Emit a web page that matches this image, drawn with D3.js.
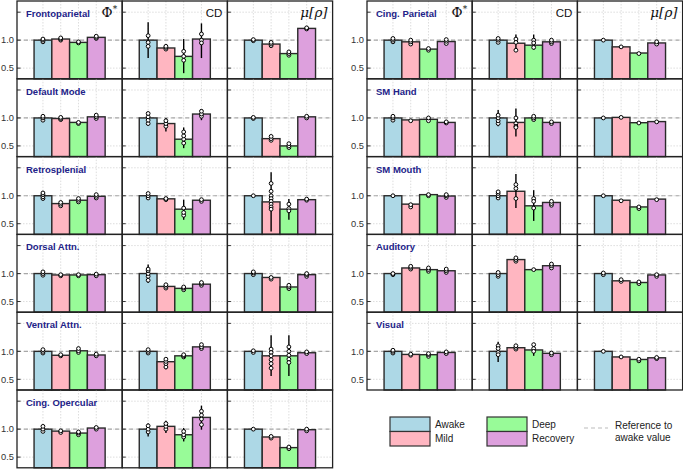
<!DOCTYPE html>
<html><head><meta charset="utf-8">
<script src="https://cdn.jsdelivr.net/npm/d3@7"></script>
<style>body{margin:0;background:#fff}svg{display:block;font-family:"Liberation Sans",Arial,sans-serif}</style>
</head><body><svg id="c" width="683" height="470"></svg>
<script>
const conditions = ["Awake","Mild","Deep","Recovery"];
const colors = ["#add8e6","#ffb6c1","#98fb98","#dda0dd"];
const metricLabels = ["Φ*","CD","μ[ρ]"];
const yTicks = [0.5, 1.0, 1.5];
const yTickLabels = ["0.5","1.0",""];
const leftNetworks = ["Frontoparietal","Default Mode","Retrosplenial","Dorsal Attn.","Ventral Attn.","Cing. Opercular"];
const rightNetworks = ["Cing. Parietal","SM Hand","SM Mouth","Auditory","Visual"];

// each bar: [mean, errLow, errHigh, dots]
const frontoparietal = [
  [[1.0,0.97,1.03,[0.97,1.0,1.02]],[1.02,1.0,1.04,[1.0,1.02,1.04]],[0.96,0.95,0.97,[0.95,0.97]],[1.05,1.03,1.07,[1.03,1.05,1.07]]],
  [[1.0,0.68,1.32,[1.08,0.96,0.89]],[0.86,0.84,0.89,[0.84,0.87,0.89]],[0.71,0.41,1.02,[0.80,0.71,0.64]],[1.02,0.68,1.30,[1.11,1.0,0.95]]],
  [[1.0,0.98,1.02,[0.99,1.01]],[0.93,0.88,0.97,[0.9,0.93,0.96]],[0.76,0.71,0.8,[0.73,0.76,0.79]],[1.21,1.19,1.23,[1.2,1.22]]]
];
const defaultMode = [
  [[1.0,0.96,1.03,[0.96,1.0,1.03]],[0.99,0.97,1.01,[0.97,0.99,1.01]],[0.92,0.9,0.93,[0.9,0.92]],[1.02,0.99,1.05,[0.99,1.02,1.05]]],
  [[1.0,0.86,1.11,[0.9,0.96,1.02,1.08]],[0.9,0.76,1.0,[0.85,0.9,0.95]],[0.62,0.46,0.83,[0.55,0.62,0.68,0.75]],[1.07,0.96,1.16,[1.03,1.07,1.12]]],
  [[1.0,0.98,1.02,[0.99,1.01]],[0.63,0.6,0.67,[0.6,0.63,0.67]],[0.5,0.46,0.54,[0.47,0.5,0.54]],[1.02,1.0,1.05,[1.0,1.03]]]
];
const retrosplenial = [
  [[1.0,0.95,1.05,[0.95,0.98,1.02,1.05]],[0.86,0.81,0.88,[0.82,0.85,0.88]],[0.92,0.89,0.95,[0.89,0.92,0.95]],[0.99,0.96,1.02,[0.96,0.99,1.02]]],
  [[1.0,0.96,1.05,[0.96,1.0,1.04]],[0.945,0.93,0.96,[0.93,0.95]],[0.76,0.57,0.93,[0.65,0.7,0.78]],[0.92,0.9,0.94,[0.9,0.93]]],
  [[1.0,0.99,1.01,[1.0]],[0.89,0.36,1.42,[1.22,1.08,1.0,0.95,0.9,0.85,0.8,0.76]],[0.76,0.57,0.94,[0.85,0.77,0.73]],[0.93,0.92,0.94,[0.92,0.94]]]
];
const dorsalAttn = [
  [[1.0,0.97,1.03,[0.97,1.0,1.03]],[0.975,0.96,0.99,[0.96,0.98]],[0.975,0.96,0.99,[0.96,0.98]],[0.98,0.96,1.0,[0.96,0.99]]],
  [[1.0,0.83,1.16,[0.88,0.95,1.0,1.05,1.08]],[0.77,0.74,0.8,[0.74,0.77,0.8]],[0.735,0.71,0.76,[0.71,0.74,0.76]],[0.81,0.79,0.84,[0.79,0.82,0.84]]],
  [[1.0,0.98,1.03,[0.98,1.01,1.03]],[0.93,0.9,0.94,[0.9,0.93]],[0.76,0.73,0.79,[0.73,0.76,0.79]],[0.98,0.95,1.0,[0.95,0.98,1.0]]]
];
const ventralAttn = [
  [[1.0,0.97,1.03,[0.97,1.0,1.03]],[0.93,0.92,0.94,[0.92,0.94]],[1.01,0.98,1.05,[0.98,1.01,1.05]],[0.935,0.92,0.95,[0.92,0.95]]],
  [[1.0,0.97,1.03,[0.97,1.0,1.03]],[0.815,0.68,0.86,[0.72,0.78,0.82,0.86]],[0.92,0.9,0.94,[0.9,0.92,0.94]],[1.08,1.05,1.12,[1.05,1.08,1.12]]],
  [[1.0,0.98,1.02,[0.98,1.01]],[0.92,0.56,1.29,[1.04,0.98,0.92,0.85,0.78,0.7]],[0.92,0.56,1.29,[1.08,1.0,0.93,0.86,0.8]],[0.975,0.96,0.99,[0.96,0.99]]]
];
const cingOpercular = [
  [[1.0,0.96,1.05,[0.96,1.0,1.05]],[0.965,0.94,0.98,[0.94,0.97]],[0.93,0.9,0.95,[0.9,0.93,0.95]],[1.02,1.0,1.04,[1.0,1.03]]],
  [[1.0,0.87,1.1,[0.95,1.0,1.06]],[1.05,0.93,1.15,[1.0,1.05,1.1]],[0.9,0.78,1.02,[0.86,0.9,0.96]],[1.21,0.99,1.42,[1.32,1.25,1.18,1.08]]],
  [[1.0,0.99,1.01,[1.0]],[0.86,0.84,0.88,[0.84,0.87]],[0.67,0.65,0.69,[0.65,0.68]],[0.99,0.97,1.01,[0.97,1.0]]]
];
const cingParietal = [
  [[1.0,0.97,1.03,[0.97,1.0,1.03]],[0.97,0.93,1.0,[0.93,0.97,1.0]],[0.84,0.82,0.86,[0.82,0.85]],[0.975,0.94,1.01,[0.94,0.98,1.01]]],
  [[1.0,0.96,1.03,[0.96,1.0,1.03]],[0.945,0.83,1.1,[1.02,0.96,0.82]],[0.91,0.83,1.1,[1.0,0.95,0.87]],[0.97,0.94,1.0,[0.94,0.97,1.0]]],
  [[1.0,0.99,1.01,[1.0]],[0.88,0.87,0.89,[0.88]],[0.77,0.76,0.78,[0.76]],[0.95,0.93,0.97,[0.93,0.97]]]
];
const smHand = [
  [[1.0,0.96,1.03,[0.96,1.0,1.03]],[0.965,0.94,0.97,[0.95]],[0.975,0.95,1.0,[0.95,1.0]],[0.92,0.91,0.93,[0.91,0.93]]],
  [[1.0,0.85,1.14,[0.9,0.95,1.0,1.05]],[0.92,0.67,1.17,[1.0,0.9,0.85,0.83]],[1.0,0.97,1.03,[0.97,1.0,1.03]],[0.92,0.9,0.94,[0.9,0.93]]],
  [[1.0,0.99,1.01,[1.0]],[1.01,1.0,1.02,[1.01]],[0.915,0.9,0.93,[0.91]],[0.935,0.92,0.95,[0.93]]]
];
const smMouth = [
  [[1.0,0.99,1.01,[1.0]],[0.85,0.8,0.86,[0.8,0.84]],[1.02,1.0,1.03,[1.0,1.02]],[0.995,0.97,1.02,[0.97,1.0,1.02]]],
  [[1.0,0.96,1.07,[0.96,1.0,1.04,1.07]],[1.08,0.78,1.39,[1.2,1.13,0.95]],[0.82,0.55,1.1,[0.95,0.9,0.78]],[0.88,0.83,0.91,[0.83,0.86,0.9]]],
  [[1.0,0.99,1.01,[1.0]],[0.92,0.9,0.93,[0.91]],[0.8,0.77,0.81,[0.77,0.8]],[0.94,0.92,0.95,[0.93]]]
];
const auditory = [
  [[1.0,0.98,1.01,[0.98,1.0]],[1.1,1.08,1.13,[1.08,1.11,1.13]],[1.07,1.04,1.1,[1.04,1.07,1.1]],[1.05,1.02,1.08,[1.02,1.05,1.08]]],
  [[1.0,0.95,1.03,[0.95,0.98,1.02]],[1.25,1.22,1.28,[1.22,1.25,1.28]],[1.07,1.06,1.08,[1.07]],[1.14,1.1,1.17,[1.1,1.14,1.17]]],
  [[1.0,0.98,1.02,[0.98,1.01]],[0.87,0.86,0.9,[0.86,0.89]],[0.84,0.82,0.86,[0.82,0.85]],[0.975,0.95,0.99,[0.95,0.98]]]
];
const visual = [
  [[1.0,0.97,1.02,[0.97,1.0,1.02]],[0.945,0.93,0.95,[0.93,0.95]],[0.94,0.91,0.96,[0.91,0.94,0.96]],[0.98,0.96,1.0,[0.96,0.99]]],
  [[1.0,0.81,1.17,[1.1,1.05,0.98,0.94]],[1.065,1.04,1.1,[1.04,1.07,1.1]],[1.025,0.92,1.15,[1.12,1.05,1.0]],[0.965,0.94,0.98,[0.94,0.97]]],
  [[1.0,0.99,1.01,[1.0]],[0.9,0.89,0.91,[0.9]],[0.855,0.83,0.86,[0.83,0.86]],[0.885,0.87,0.89,[0.87,0.89]]]
];
const leftData = [frontoparietal, defaultMode, retrosplenial, dorsalAttn, ventralAttn, cingOpercular];
const rightData = [cingParietal, smHand, smMouth, auditory, visual];

const svg = d3.select("#c");
const rowTop = 1, rowH = 77.8, panelW = 105.2;
const blocks = [
  {x0: 17, names: leftNetworks, data: leftData},
  {x0: 367, names: rightNetworks, data: rightData}
];

function drawPanel(g, bars, w, h, showLabels, title, metricIdx, showMetric) {
  const x = d3.scaleBand().domain(conditions).range([0, w]).paddingInner(0).paddingOuter(0.96);
  const y = d3.scaleLinear().domain([0.309, 1.70]).range([h, 0]);
  g.selectAll(".vg").data(conditions).join("line")
    .attr("x1", d => x(d) + x.bandwidth()/2).attr("x2", d => x(d) + x.bandwidth()/2)
    .attr("y1", 0).attr("y2", h).attr("stroke", "#d4d4d4").attr("stroke-width", 0.8).attr("stroke-dasharray", "1.5,1.5");
  g.selectAll(".hg").data(yTicks).join("line")
    .attr("x1", 0).attr("x2", w).attr("y1", d => y(d)).attr("y2", d => y(d))
    .attr("stroke", "#d4d4d4").attr("stroke-width", 0.8).attr("stroke-dasharray", "1.5,1.5");
  g.append("line").attr("x1", 0).attr("x2", w).attr("y1", y(1)).attr("y2", y(1))
    .attr("stroke", "#a8a8a8").attr("stroke-width", 1.2).attr("stroke-dasharray", "4,3");
  g.selectAll(".bar").data(bars).join("rect")
    .attr("x", (d, i) => x(conditions[i])).attr("width", x.bandwidth())
    .attr("y", d => y(d[0])).attr("height", d => h - y(d[0]))
    .attr("fill", (d, i) => colors[i]).attr("stroke", "#2a2a2a").attr("stroke-width", 1.4);
  g.selectAll(".err").data(bars).join("line")
    .attr("x1", (d, i) => x(conditions[i]) + x.bandwidth()/2).attr("x2", (d, i) => x(conditions[i]) + x.bandwidth()/2)
    .attr("y1", d => y(d[1])).attr("y2", d => y(d[2])).attr("stroke", "#000").attr("stroke-width", 1.4);
  const pts = [];
  bars.forEach((b, i) => b[3].forEach(v => pts.push({i, v})));
  g.selectAll(".dot").data(pts).join("circle")
    .attr("cx", d => x(conditions[d.i]) + x.bandwidth()/2).attr("cy", d => y(d.v)).attr("r", 1.9)
    .attr("fill", "#fff").attr("stroke", "#000").attr("stroke-width", 1);
  g.selectAll(".tk").data(yTicks).join("line")
    .attr("x1", 0).attr("x2", 3.5).attr("y1", d => y(d)).attr("y2", d => y(d)).attr("stroke", "#333").attr("stroke-width", 1);
  if (showLabels) {
    g.selectAll(".tl").data(yTicks).join("text")
      .attr("x", -3).attr("y", d => y(d) + 3.3).attr("text-anchor", "end")
      .attr("font-size", 9.3).attr("fill", "#333").text((d, i) => yTickLabels[i]);
    g.append("text").attr("x", 9).attr("y", 16).attr("font-size", 9.5).attr("font-weight", "bold")
      .attr("fill", "#222288").text(title);
  }
  if (showMetric) {
    const t = g.append("text").attr("x", w - 5).attr("y", 16).attr("text-anchor", "end").attr("fill", "#111");
    if (metricIdx === 1) {
      t.attr("font-size", 11.5).attr("font-family", "'Liberation Sans',Arial,sans-serif").text("CD");
    } else if (metricIdx === 0) {
      t.attr("font-size", 13.5).attr("font-family", "'DejaVu Serif',serif").text("Φ");
      t.append("tspan").attr("font-size", 9).attr("dy", -5).text("*");
    } else {
      t.attr("font-size", 13.5).attr("font-family", "'DejaVu Serif',serif").attr("font-style", "italic").text("μ[ρ]");
    }
  }
  g.append("rect").attr("x", 0).attr("y", 0).attr("width", w).attr("height", h)
    .attr("fill", "none").attr("stroke", "#222").attr("stroke-width", 1.3);
}

blocks.forEach(b => {
  b.names.forEach((name, r) => {
    for (let m = 0; m < 3; m++) {
      const g = svg.append("g").attr("transform", `translate(${b.x0 + m * panelW},${rowTop + r * rowH})`);
      drawPanel(g, b.data[r][m], panelW, rowH, m === 0, name, m, r === 0);
    }
  });
});

// legend
const lg = svg.append("g");
const legendItems = [
  {c: 0, x: 390, y: 417}, {c: 1, x: 390, y: 431.5},
  {c: 2, x: 487, y: 417}, {c: 3, x: 487, y: 431.5}
];
lg.selectAll("rect").data(legendItems).join("rect")
  .attr("x", d => d.x).attr("y", d => d.y).attr("width", 40).attr("height", 14.5)
  .attr("fill", d => colors[d.c]).attr("stroke", "#333").attr("stroke-width", 1.2);
lg.selectAll("text.l").data(legendItems).join("text")
  .attr("x", d => d.x + 45).attr("y", d => d.c % 2 === 0 ? 428 : 441.5)
  .attr("font-size", 10).attr("fill", "#222").text(d => conditions[d.c]);
lg.append("line").attr("x1", 584).attr("x2", 608).attr("y1", 428).attr("y2", 428)
  .attr("stroke", "#bbb").attr("stroke-width", 1.2).attr("stroke-dasharray", "4,3");
lg.append("text").attr("x", 615).attr("y", 428.5).attr("font-size", 10).attr("fill", "#222").text("Reference to");
lg.append("text").attr("x", 615).attr("y", 440.5).attr("font-size", 10).attr("fill", "#222").text("awake value");
</script></body></html>
